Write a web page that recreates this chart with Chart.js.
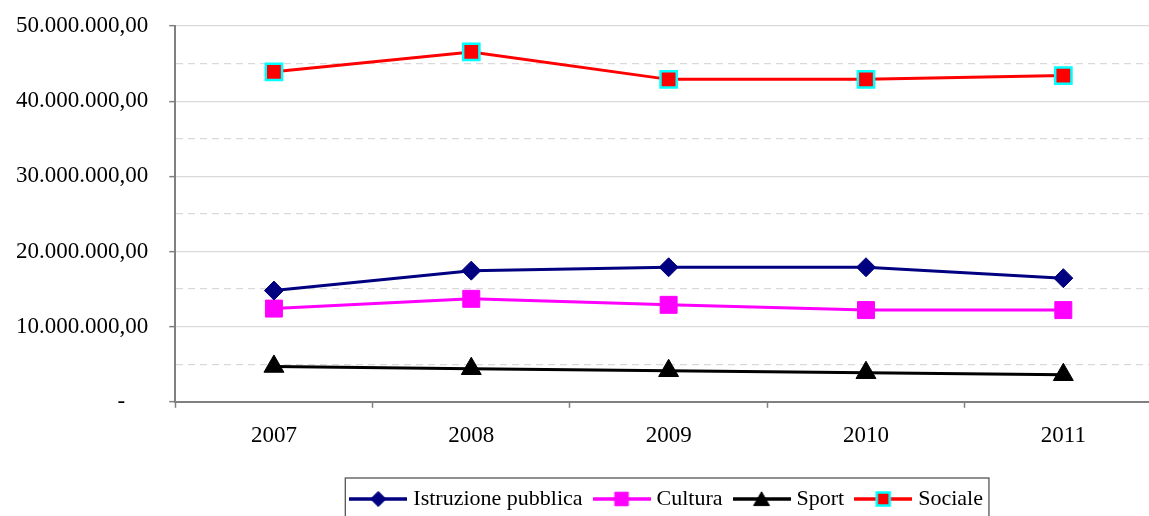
<!DOCTYPE html>
<html>
<head>
<meta charset="utf-8">
<script src="https://cdn.jsdelivr.net/npm/chart.js@4/dist/chart.umd.min.js"></script>
<style>
  html, body { margin: 0; padding: 0; background: #fff; overflow: hidden; }
  #wrap { width: 1165px; height: 516px; }
</style>
</head>
<body>
<div id="wrap"><canvas id="chart" width="1165" height="516"></canvas></div>
<script>
// ─── Data ──────────────────────────────────────────────────
const years = ['2007', '2008', '2009', '2010', '2011'];
const istruzione = [14800000, 17450000, 17900000, 17900000, 16450000];
const cultura = [12400000, 13700000, 12900000, 12200000, 12200000];
const sport = [4700000, 4400000, 4130000, 3870000, 3600000];
const sociale = [43900000, 46550000, 42900000, 42900000, 43400000];

const yMin = 0, yMax = 50000000, yStep = 5000000, labelStep = 10000000;

// ─── Helpers ───────────────────────────────────────────────
function formatIt(v) {
  if (v === 0) return '-    ';
  const s = Math.round(v).toString().replace(/\B(?=(\d{3})+(?!\d))/g, '.');
  return s + ',00';
}

const ICON_W = 58, BOX_W = 48;

function legendIcon(color, style, radius, fill, border, borderWidth) {
  const c = document.createElement('canvas');
  c.width = ICON_W; c.height = 22;
  const ctx = c.getContext('2d');
  ctx.strokeStyle = color;
  ctx.lineWidth = 3.5;
  ctx.beginPath(); ctx.moveTo(0, 11); ctx.lineTo(ICON_W, 11); ctx.stroke();
  ctx.fillStyle = fill;
  ctx.strokeStyle = border;
  ctx.lineWidth = borderWidth;
  Chart.helpers.drawPoint(ctx, { pointStyle: style, radius, borderWidth }, ICON_W / 2, style === 'triangle' ? 13 : 11);
  return c;
}

Chart.defaults.font.family = '"Liberation Serif", "Times New Roman", serif';
Chart.defaults.color = '#000';

const series = [
  { label: 'Istruzione pubblica', data: istruzione, color: '#000080', style: 'rectRot', r: 9.5, fill: '#000080', border: '#000080', bw: 1 },
  { label: 'Cultura', data: cultura, color: '#FF00FF', style: 'rect', r: 12, fill: '#FF00FF', border: '#FF00FF', bw: 1 },
  { label: 'Sport', data: sport, color: '#000000', style: 'triangle', r: 11.5, fill: '#000000', border: '#000000', bw: 1 },
  { label: 'Sociale', data: sociale, color: '#FF0000', style: 'rect', r: 11.5, fill: '#FF0000', border: '#00FFFF', bw: 2.5 }
];

// legend frame drawn around the legend items
const legendFrame = {
  id: 'legendFrame',
  afterDraw(chart) {
    const lg = chart.legend;
    if (!lg || !lg.legendHitBoxes.length) return;
    const boxes = lg.legendHitBoxes;
    const left = Math.min(...boxes.map(b => b.left)) - (ICON_W - BOX_W) / 2 - 4;
    const right = Math.max(...boxes.map(b => b.left + b.width)) + 6;
    const top = Math.min(...boxes.map(b => b.top)) - 10;
    const ctx = chart.ctx;
    ctx.save();
    ctx.strokeStyle = '#555';
    ctx.lineWidth = 1.3;
    ctx.strokeRect(left, top, right - left, chart.height - top + 10);
    ctx.restore();
  }
};

new Chart(document.getElementById('chart'), {
  type: 'line',
  data: {
    labels: years,
    datasets: series.map(s => ({
      label: s.label,
      data: s.data,
      borderColor: s.color,
      borderWidth: 3,
      tension: 0,
      pointStyle: s.style,
      pointRadius: s.r,
      pointHoverRadius: s.r,
      pointBackgroundColor: s.fill,
      pointBorderColor: s.border,
      pointBorderWidth: s.bw,
      icon: legendIcon(s.color, s.style, s.r * 0.8, s.fill, s.border, s.bw)
    }))
  },
  options: {
    responsive: false,
    animation: false,
    layout: { autoPadding: false, padding: { top: 0, right: 3, left: -5, bottom: -4 } },
    plugins: {
      tooltip: { enabled: false },
      legend: {
        position: 'bottom',
        fullSize: false,
        title: { display: true, text: '', font: { size: 8 }, padding: 0 },
        labels: {
          usePointStyle: true,
          pointStyleWidth: BOX_W,
          padding: 15,
          font: { size: 22 },
          color: '#000',
          generateLabels(chart) {
            return chart.data.datasets.map((ds, i) => ({
              text: ds.label,
              pointStyle: ds.icon,
              datasetIndex: i,
              fillStyle: ds.borderColor,
              strokeStyle: ds.borderColor,
              lineWidth: 0,
              fontColor: '#000',
              hidden: false
            }));
          }
        }
      }
    },
    scales: {
      x: {
        offset: true,
        grid: {
          offset: true,
          drawOnChartArea: false,
          tickLength: 6,
          tickColor: '#808080',
          tickWidth: 1.5
        },
        border: { color: '#808080', width: 2 },
        ticks: { font: { size: 23 }, padding: 14, color: '#000', maxRotation: 0 }
      },
      y: {
        min: yMin,
        max: yMax,
        // tick padding is horizontal here; don't let it push the plot down
        afterFit: scale => { scale.paddingTop = 26; scale.paddingBottom = 14; },
        grid: {
          color: '#d9d9d9',
          lineWidth: 1.3,
          tickLength: 6,
          tickWidth: 1.5,
          tickColor: ctx => (ctx.tick && ctx.tick.value % labelStep) ? 'rgba(0,0,0,0)' : '#808080'
        },
        border: {
          color: '#808080',
          width: 2,
          dash: ctx => (ctx.tick && ctx.tick.value % labelStep) ? [7, 5] : []
        },
        ticks: {
          stepSize: yStep,
          padding: 21,
          font: { size: 23 },
          color: '#000',
          callback: v => (v % labelStep) ? '' : formatIt(v)
        }
      }
    }
  },
  plugins: [legendFrame]
});
</script>
</body>
</html>
